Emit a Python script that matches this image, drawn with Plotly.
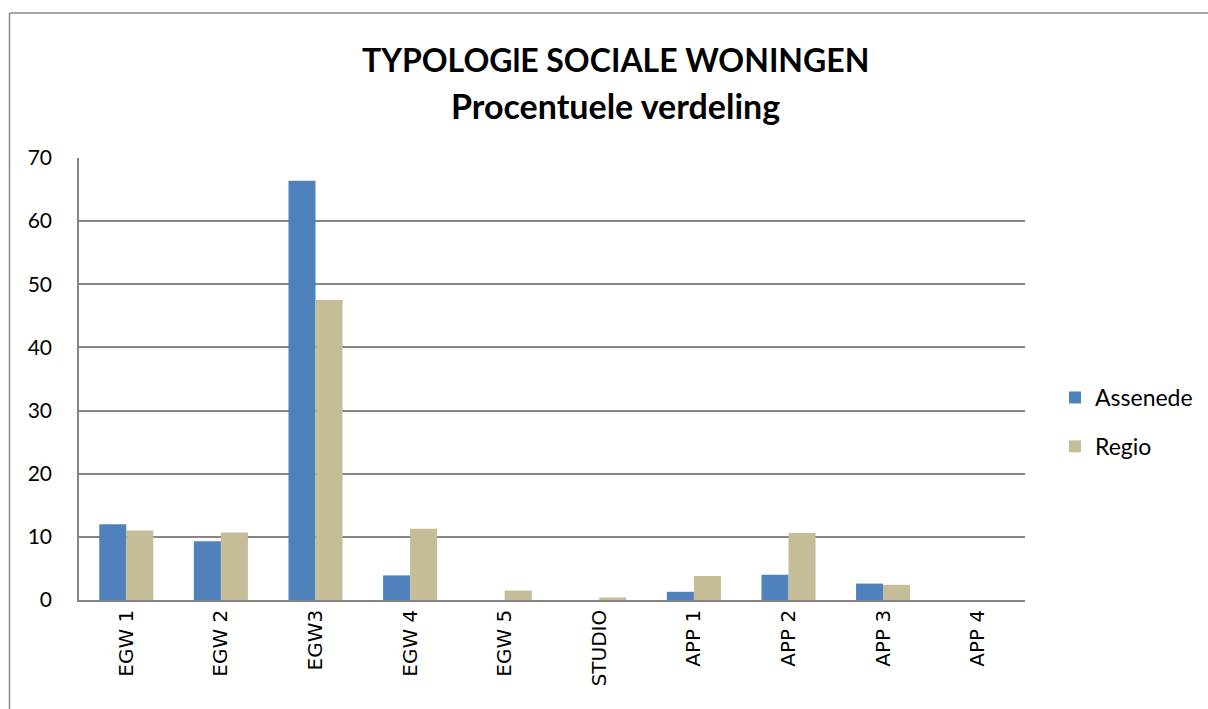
import plotly.graph_objects as go

categories = ["EGW 1", "EGW 2", "EGW3", "EGW 4", "EGW 5", "STUDIO", "APP 1", "APP 2", "APP 3", "APP 4"]
assenede = [12.0, 9.3, 66.4, 3.9, 0, 0, 1.3, 4.0, 2.6, 0]
regio = [11.0, 10.7, 47.5, 11.3, 1.5, 0.4, 3.8, 10.6, 2.4, 0]
y_ticks = [0, 10, 20, 30, 40, 50, 60, 70]

W, H = 1208, 709
L, R, T, B = 79, 1025, 158, 600
pw, ph = R - L, B - T

def px(x):
    return (x - L) / pw

def py(y):
    return (B - y) / ph

fig = go.Figure()
fig.add_trace(go.Bar(x=categories, y=assenede, name="Assenede",
                     marker=dict(color="#4F81BD", line=dict(width=0)), legendgroup="a"))
fig.add_trace(go.Bar(x=categories, y=regio, name="Regio",
                     marker=dict(color="#C4BD97", line=dict(width=0)), legendgroup="b"))

fig.update_layout(
    width=W, height=H,
    margin=dict(l=L, r=W - R, t=T, b=H - B, autoexpand=False),
    paper_bgcolor="white", plot_bgcolor="white",
    barmode="group", bargap=1.5 / 3.5, bargroupgap=0,
    showlegend=True,
    legend=dict(x=px(1055), y=py(422), xanchor="left", yanchor="middle",
                font=dict(family="Lato, Calibri, sans-serif", size=23, color="#000"),
                tracegroupgap=16, bgcolor="rgba(0,0,0,0)", itemwidth=30),
    font=dict(family="Lato, Calibri, sans-serif", color="#000"),
)
fig.update_yaxes(range=[0, 70], tickvals=y_ticks, showgrid=True, gridcolor="#868686", gridwidth=1.5,
                 showline=True, linecolor="#868686", linewidth=1.5, zeroline=False,
                 ticks="", ticklabelstandoff=21,
                 tickfont=dict(family="Lato, Calibri, sans-serif", size=21, color="#000"))
fig.update_xaxes(showline=True, linecolor="#868686", linewidth=1.5, ticks="", tickangle=-90,
                 ticklabelstandoff=0,
                 tickfont=dict(family="DejaVu Sans, Verdana, sans-serif", size=20, color="#000"))

fig.add_annotation(text="<b>TYPOLOGlE SOCIALE WONINGEN</b>", xref="paper", yref="paper",
                   x=px(615), y=py(60), showarrow=False, xanchor="center", yanchor="middle",
                   font=dict(family="Lato, Calibri, sans-serif", size=32, color="#000"))
fig.add_annotation(text="<b>Procentuele verdeling</b>", xref="paper", yref="paper",
                   x=px(615), y=py(105), showarrow=False, xanchor="center", yanchor="middle",
                   font=dict(family="Lato, Calibri, sans-serif", size=34, color="#000"))

# chart-area border (top and left edges visible in the crop)
fig.add_shape(type="line", xref="paper", yref="paper",
              x0=px(9.5), x1=px(1210), y0=py(13), y1=py(13),
              line=dict(color="#888888", width=1.5), layer="below")
fig.add_shape(type="line", xref="paper", yref="paper",
              x0=px(9.5), x1=px(9.5), y0=py(13), y1=py(712),
              line=dict(color="#888888", width=1.5), layer="below")

fig.write_html("out.html", config={"displayModeBar": False},
               post_script="document.body.style.margin='0';document.body.style.overflow='hidden';")
